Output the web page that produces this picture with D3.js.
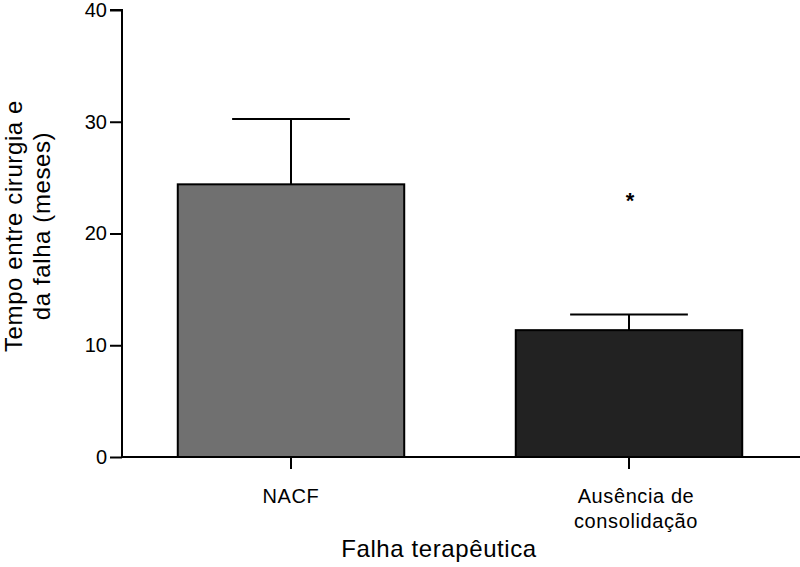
<!DOCTYPE html>
<html><head><meta charset="utf-8">
<script src="https://cdn.jsdelivr.net/npm/d3@7"></script>
<style>body{margin:0;background:#fff}svg{display:block}text{font-family:"Liberation Sans",Arial,Helvetica,sans-serif;fill:#000}</style>
</head><body>
<script>
const categories = [["NACF"], ["Ausência de", "consolidação"]];
const means = [24.4, 11.35];
const errorTops = [30.25, 12.75];
const fills = ["#707070", "#222222"];
const yTicks = [0, 10, 20, 30, 40];
const sigMarks = ["", "*"];
const sigValues = [null, 23.3];

const W = 800, H = 567;
const svg = d3.select("body").append("svg").attr("width", W).attr("height", H);
const x = d3.scaleBand().domain(d3.range(categories.length)).range([122, 798]).paddingInner(0.33).paddingOuter(0.165);
const y = d3.scaleLinear().domain([0, 40]).range([457, 10]);

// y axis
const ya = svg.append("g").attr("transform", "translate(122,0)")
  .call(d3.axisLeft(y).tickValues(yTicks).tickSize(12).tickPadding(3));
ya.select(".domain").attr("stroke", "#000").attr("stroke-width", 2).attr("d", `M-12,${y(40)}H0V${y(0)}`);
ya.selectAll(".tick line").attr("stroke", "#000").attr("stroke-width", 2);
ya.selectAll(".tick text").style("font-size", "20px").attr("fill", "#000");

// x axis
const xa = svg.append("g").attr("transform", `translate(0,${y(0)})`)
  .call(d3.axisBottom(x).tickSize(12).tickFormat(""));
xa.select(".domain").attr("stroke", "#000").attr("stroke-width", 2).attr("d", `M122,0H800`);
xa.selectAll(".tick line").attr("stroke", "#000").attr("stroke-width", 2);

// bars
const g = svg.append("g");
g.selectAll("rect").data(means).join("rect")
  .attr("x", (d, i) => x(i)).attr("width", x.bandwidth())
  .attr("y", d => y(d)).attr("height", d => y(0) - y(d))
  .attr("fill", (d, i) => fills[i]).attr("stroke", "#000").attr("stroke-width", 2);

// error bars
errorTops.forEach((e, i) => {
  const cx = x(i) + x.bandwidth() / 2;
  const hw = x.bandwidth() * 0.26;
  svg.append("line").attr("x1", cx).attr("x2", cx).attr("y1", y(means[i])).attr("y2", y(e)).attr("stroke", "#000").attr("stroke-width", 2);
  svg.append("line").attr("x1", cx - hw).attr("x2", cx + hw).attr("y1", y(e)).attr("y2", y(e)).attr("stroke", "#000").attr("stroke-width", 2);
});

// significance
sigMarks.forEach((m, i) => {
  if (!m) return;
  svg.append("text").attr("x", x(i) + x.bandwidth() / 2 + 1).attr("y", y(sigValues[i]) + 11)
    .attr("text-anchor", "middle").style("font-size", "22px").style("font-weight", "bold").text(m);
});

// category labels
categories.forEach((lines, i) => {
  const cx = x(i) + x.bandwidth() / 2 + (lines.length > 1 ? 7 : 0);
  const t = svg.append("text").attr("x", cx).attr("y", 503)
    .attr("text-anchor", "middle").style("font-size", "20px").style("letter-spacing", "0.6px");
  lines.forEach((l, k) => t.append("tspan").attr("x", cx).attr("dy", k ? 25 : 0).text(l));
});

// titles
svg.append("text").attr("x", 439).attr("y", 557).attr("text-anchor", "middle")
  .style("font-size", "24px").style("letter-spacing", "0.6px").text("Falha terapêutica");
const yt = svg.append("text").attr("transform", "translate(0,226) rotate(-90)").attr("text-anchor", "middle")
  .style("font-size", "24px").style("letter-spacing", "0.6px");
yt.append("tspan").attr("x", 0).attr("y", 22).text("Tempo entre cirurgia e");
yt.append("tspan").attr("x", 0).attr("y", 50).text("da falha (meses)");
</script>
</body></html>
